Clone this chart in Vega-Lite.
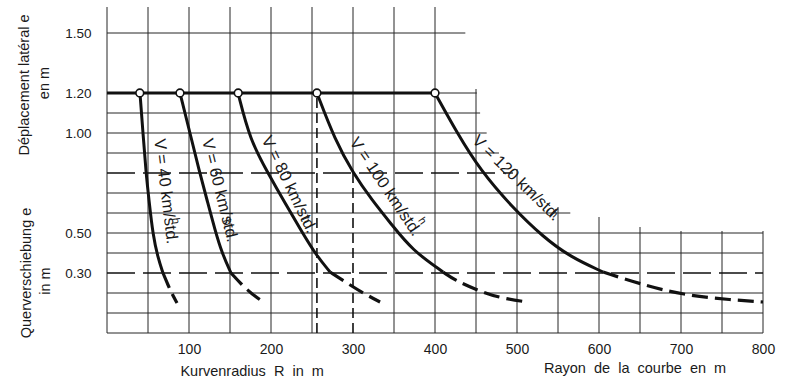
{
  "$schema": "https://vega.github.io/schema/vega-lite/v6.json",
  "width": 656,
  "height": 326,
  "autosize": {"type": "none"},
  "padding": {"left": 107, "top": 7, "right": 22, "bottom": 49},
  "background": "white",
  "config": {
    "view": {"stroke": null},
    "text": {"font": "Liberation Sans", "color": "#1a1a1a"},
    "axis": {"labelFont": "Liberation Sans", "labelColor": "#1a1a1a"}
  },
  "datasets": {
    "gridV": [
      {"R": 0, "e": 0, "e2": 1.63}, {"R": 50, "e": 0, "e2": 1.63}, {"R": 100, "e": 0, "e2": 1.63},
      {"R": 150, "e": 0, "e2": 1.63}, {"R": 200, "e": 0, "e2": 1.63}, {"R": 250, "e": 0, "e2": 1.63},
      {"R": 300, "e": 0.8, "e2": 1.63}, {"R": 350, "e": 0, "e2": 1.63}, {"R": 400, "e": 0, "e2": 1.63},
      {"R": 450, "e": 0, "e2": 1.22}, {"R": 500, "e": 0, "e2": 0.82}, {"R": 550, "e": 0, "e2": 0.63},
      {"R": 600, "e": 0, "e2": 0.58}, {"R": 650, "e": 0, "e2": 0.53}, {"R": 700, "e": 0, "e2": 0.51},
      {"R": 750, "e": 0, "e2": 0.51}, {"R": 800, "e": 0, "e2": 0.51}
    ],
    "gridVDash": [
      {"R": 256, "e": 0, "e2": 1.2}, {"R": 300, "e": 0, "e2": 0.8}
    ],
    "gridH": [
      {"e": 1.5, "R": 0, "R2": 437}, {"e": 1.2, "R": 0, "R2": 451}, {"e": 1.1, "R": 0, "R2": 455},
      {"e": 1.0, "R": 0, "R2": 463}, {"e": 0.9, "R": 0, "R2": 478}, {"e": 0.7, "R": 0, "R2": 524},
      {"e": 0.6, "R": 0, "R2": 565}, {"e": 0.5, "R": 0, "R2": 800}, {"e": 0.4, "R": 0, "R2": 800},
      {"e": 0.2, "R": 0, "R2": 800}, {"e": 0.1, "R": 0, "R2": 800}, {"e": 0.0, "R": 0, "R2": 800}
    ],
    "gridHDash": [
      {"e": 0.8, "R": 0, "R2": 495}, {"e": 0.3, "R": 0, "R2": 800}
    ],
    "limit": [{"e": 1.2, "R": 0, "R2": 400}],
    "circles": [
      {"v": 40, "R": 40, "e": 1.2}, {"v": 60, "R": 89, "e": 1.2}, {"v": 80, "R": 160, "e": 1.2},
      {"v": 100, "R": 256, "e": 1.2}, {"v": 120, "R": 400, "e": 1.2}
    ],
    "curves": [
      {"v": 40, "part": "solid", "R": 40.2, "e": 1.2},
      {"v": 40, "part": "solid", "R": 43.9, "e": 1.0},
      {"v": 40, "part": "solid", "R": 47.6, "e": 0.8},
      {"v": 40, "part": "solid", "R": 51.2, "e": 0.665},
      {"v": 40, "part": "solid", "R": 56, "e": 0.49},
      {"v": 40, "part": "solid", "R": 62.2, "e": 0.375},
      {"v": 40, "part": "solid", "R": 68.3, "e": 0.3},
      {"v": 40, "part": "dash", "R": 68.3, "e": 0.3},
      {"v": 40, "part": "dash", "R": 74.4, "e": 0.24},
      {"v": 40, "part": "dash", "R": 79.3, "e": 0.195},
      {"v": 40, "part": "dash", "R": 85.4, "e": 0.15},
      {"v": 60, "part": "solid", "R": 89, "e": 1.2},
      {"v": 60, "part": "solid", "R": 101.2, "e": 1.0},
      {"v": 60, "part": "solid", "R": 112.2, "e": 0.815},
      {"v": 60, "part": "solid", "R": 122, "e": 0.665},
      {"v": 60, "part": "solid", "R": 131.7, "e": 0.515},
      {"v": 60, "part": "solid", "R": 140.2, "e": 0.4},
      {"v": 60, "part": "solid", "R": 151.2, "e": 0.3},
      {"v": 60, "part": "dash", "R": 151.2, "e": 0.3},
      {"v": 60, "part": "dash", "R": 164.6, "e": 0.24},
      {"v": 60, "part": "dash", "R": 176.8, "e": 0.195},
      {"v": 60, "part": "dash", "R": 189, "e": 0.16},
      {"v": 80, "part": "solid", "R": 159.8, "e": 1.2},
      {"v": 80, "part": "solid", "R": 174.4, "e": 0.965},
      {"v": 80, "part": "solid", "R": 196.3, "e": 0.8},
      {"v": 80, "part": "solid", "R": 217, "e": 0.65},
      {"v": 80, "part": "solid", "R": 237.8, "e": 0.505},
      {"v": 80, "part": "solid", "R": 254.9, "e": 0.39},
      {"v": 80, "part": "solid", "R": 272, "e": 0.305},
      {"v": 80, "part": "dash", "R": 272, "e": 0.305},
      {"v": 80, "part": "dash", "R": 292.7, "e": 0.25},
      {"v": 80, "part": "dash", "R": 312, "e": 0.2},
      {"v": 80, "part": "dash", "R": 333, "e": 0.155},
      {"v": 100, "part": "solid", "R": 256, "e": 1.2},
      {"v": 100, "part": "solid", "R": 278, "e": 0.965},
      {"v": 100, "part": "solid", "R": 300, "e": 0.8},
      {"v": 100, "part": "solid", "R": 323, "e": 0.665},
      {"v": 100, "part": "solid", "R": 347.6, "e": 0.54},
      {"v": 100, "part": "solid", "R": 372, "e": 0.415},
      {"v": 100, "part": "solid", "R": 409.8, "e": 0.305},
      {"v": 100, "part": "dash", "R": 409.8, "e": 0.305},
      {"v": 100, "part": "dash", "R": 424, "e": 0.265},
      {"v": 100, "part": "dash", "R": 451, "e": 0.215},
      {"v": 100, "part": "dash", "R": 479, "e": 0.175},
      {"v": 100, "part": "dash", "R": 513, "e": 0.155},
      {"v": 120, "part": "solid", "R": 400, "e": 1.2},
      {"v": 120, "part": "solid", "R": 427, "e": 1.0},
      {"v": 120, "part": "solid", "R": 455, "e": 0.815},
      {"v": 120, "part": "solid", "R": 495, "e": 0.625},
      {"v": 120, "part": "solid", "R": 532, "e": 0.48},
      {"v": 120, "part": "solid", "R": 565, "e": 0.38},
      {"v": 120, "part": "solid", "R": 605, "e": 0.305},
      {"v": 120, "part": "dash", "R": 605, "e": 0.305},
      {"v": 120, "part": "dash", "R": 650, "e": 0.245},
      {"v": 120, "part": "dash", "R": 702, "e": 0.19},
      {"v": 120, "part": "dash", "R": 763, "e": 0.165},
      {"v": 120, "part": "dash", "R": 800, "e": 0.155}
    ],
    "labels": [
      {"v": 40, "R": 71.5, "e": 0.708, "text": "V = 40 km/std.", "h": false},
      {"v": 60, "R": 137.5, "e": 0.713, "text": "V = 60 km/std.", "h": false},
      {"v": 80, "R": 222, "e": 0.742, "text": "V = 80 km/std.", "h": false},
      {"v": 100, "R": 339.5, "e": 0.731, "text": "V = 100 km/std.", "h": false},
      {"v": 120, "R": 499, "e": 0.775, "text": "V = 120 km/std.", "h": false},
      {"v": 40, "R": 83.5, "e": 0.56, "text": "h", "h": true},
      {"v": 60, "R": 146, "e": 0.553, "text": "h", "h": true},
      {"v": 80, "R": 242.5, "e": 0.564, "text": "h", "h": true},
      {"v": 100, "R": 384, "e": 0.56, "text": "h", "h": true},
      {"v": 120, "R": 545, "e": 0.595, "text": "h", "h": true}
    ],
    "titlesV": [
      {"R": -100, "e": 1.24, "text": "Déplacement latéral e"},
      {"R": -75.6, "e": 1.25, "text": "en m"},
      {"R": -98, "e": 0.3, "text": "Querverschiebung e"},
      {"R": -74.4, "e": 0.26, "text": "in m"}
    ],
    "titlesH": [
      {"R": 177, "e": -0.195, "text": "Kurvenradius\u00a0 R\u00a0 in\u00a0 m"},
      {"R": 644, "e": -0.18, "text": "Rayon\u00a0 de\u00a0 la\u00a0 courbe\u00a0 en\u00a0 m"}
    ]
  },
  "encoding": {
    "x": {
      "field": "R", "type": "quantitative",
      "scale": {"domain": [0, 800], "nice": false, "zero": false},
      "axis": {"values": [100, 200, 300, 400, 500, 600, 700, 800], "title": null, "domain": false, "ticks": false, "tickSize": 0, "grid": false, "labelFontSize": 14, "labelPadding": 9, "labelFlush": false, "labelOverlap": false}
    },
    "y": {
      "field": "e", "type": "quantitative",
      "scale": {"domain": [0, 1.63], "nice": false, "zero": false},
      "axis": {"values": [0.3, 0.5, 1.0, 1.2, 1.5], "format": ".2f", "title": null, "domain": false, "ticks": false, "tickSize": 0, "grid": false, "labelFontSize": 13.5, "labelPadding": 16, "labelFlush": false, "labelOverlap": false}
    }
  },
  "layer": [
    {"data": {"name": "gridV"}, "mark": {"type": "rule", "color": "#262626", "strokeWidth": 1}, "encoding": {"y2": {"field": "e2"}}},
    {"data": {"name": "gridH"}, "mark": {"type": "rule", "color": "#262626", "strokeWidth": 1}, "encoding": {"x2": {"field": "R2"}}},
    {"data": {"name": "gridVDash"}, "mark": {"type": "rule", "color": "#111", "strokeWidth": 1.6, "strokeDash": [10, 5]}, "encoding": {"y2": {"field": "e2"}}},
    {"data": {"name": "gridHDash"}, "mark": {"type": "rule", "color": "#111", "strokeWidth": 1.4, "strokeDash": [28, 8]}, "encoding": {"x2": {"field": "R2"}}},
    {"data": {"name": "curves"}, "transform": [{"filter": "datum.part === 'solid'"}], "mark": {"type": "line", "color": "#111", "strokeWidth": 3, "interpolate": "basis"}, "encoding": {"detail": {"field": "v"}}},
    {"data": {"name": "curves"}, "transform": [{"filter": "datum.part === 'dash'"}], "mark": {"type": "line", "color": "#111", "strokeWidth": 3.2, "strokeDash": [16, 7], "interpolate": "basis"}, "encoding": {"detail": {"field": "v"}}},
    {"data": {"name": "limit"}, "mark": {"type": "rule", "color": "#111", "strokeWidth": 3}, "encoding": {"x2": {"field": "R2"}}},
    {"data": {"name": "circles"}, "mark": {"type": "point", "shape": "circle", "filled": true, "fill": "white", "stroke": "#111", "strokeWidth": 1.6, "size": 60, "opacity": 1}},
    {"data": {"name": "labels"}, "transform": [{"filter": "datum.v === 40 && !datum.h"}], "mark": {"type": "text", "angle": 83, "fontSize": 16.5, "align": "center", "baseline": "middle"}, "encoding": {"text": {"field": "text"}}},
    {"data": {"name": "labels"}, "transform": [{"filter": "datum.v === 60 && !datum.h"}], "mark": {"type": "text", "angle": 76, "fontSize": 16.5, "align": "center", "baseline": "middle"}, "encoding": {"text": {"field": "text"}}},
    {"data": {"name": "labels"}, "transform": [{"filter": "datum.v === 80 && !datum.h"}], "mark": {"type": "text", "angle": 64, "fontSize": 16.5, "align": "center", "baseline": "middle"}, "encoding": {"text": {"field": "text"}}},
    {"data": {"name": "labels"}, "transform": [{"filter": "datum.v === 100 && !datum.h"}], "mark": {"type": "text", "angle": 56, "fontSize": 16.5, "align": "center", "baseline": "middle"}, "encoding": {"text": {"field": "text"}}},
    {"data": {"name": "labels"}, "transform": [{"filter": "datum.v === 120 && !datum.h"}], "mark": {"type": "text", "angle": 44, "fontSize": 16.5, "align": "center", "baseline": "middle"}, "encoding": {"text": {"field": "text"}}},
    {"data": {"name": "labels"}, "transform": [{"filter": "datum.v === 40 && datum.h"}], "mark": {"type": "text", "angle": 83, "fontSize": 11, "align": "center", "baseline": "middle"}, "encoding": {"text": {"field": "text"}}},
    {"data": {"name": "labels"}, "transform": [{"filter": "datum.v === 60 && datum.h"}], "mark": {"type": "text", "angle": 76, "fontSize": 11, "align": "center", "baseline": "middle"}, "encoding": {"text": {"field": "text"}}},
    {"data": {"name": "labels"}, "transform": [{"filter": "datum.v === 80 && datum.h"}], "mark": {"type": "text", "angle": 64, "fontSize": 11, "align": "center", "baseline": "middle"}, "encoding": {"text": {"field": "text"}}},
    {"data": {"name": "labels"}, "transform": [{"filter": "datum.v === 100 && datum.h"}], "mark": {"type": "text", "angle": 56, "fontSize": 11, "align": "center", "baseline": "middle"}, "encoding": {"text": {"field": "text"}}},
    {"data": {"name": "labels"}, "transform": [{"filter": "datum.v === 120 && datum.h"}], "mark": {"type": "text", "angle": 44, "fontSize": 11, "align": "center", "baseline": "middle"}, "encoding": {"text": {"field": "text"}}},
    {"data": {"name": "titlesV"}, "mark": {"type": "text", "angle": 270, "fontSize": 14.5, "align": "center", "baseline": "middle"}, "encoding": {"text": {"field": "text"}}},
    {"data": {"name": "titlesH"}, "mark": {"type": "text", "fontSize": 14.5, "align": "center", "baseline": "middle"}, "encoding": {"text": {"field": "text"}}}
  ]
}
